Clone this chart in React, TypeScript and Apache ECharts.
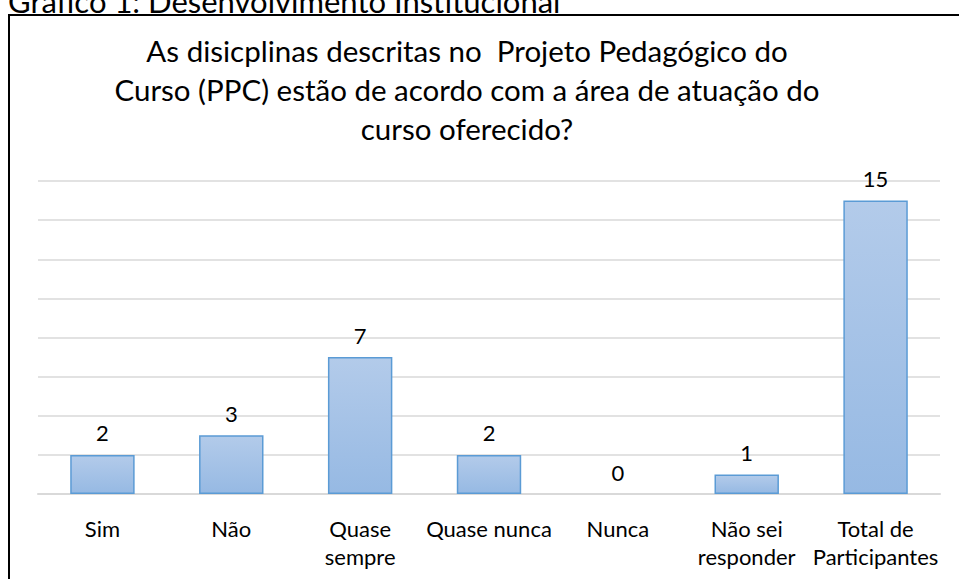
import React, { useEffect, useRef } from "react";
import * as echarts from "echarts";

const heading = "Gráfico 1: Desenvolvimento Institucional";
const titleLines = [
  "As disicplinas descritas no  Projeto Pedagógico do",
  "Curso (PPC) estão de acordo com a área de atuação do",
  "curso oferecido?",
];
const categories = [
  "Sim",
  "Não",
  "Quase\nsempre",
  "Quase nunca",
  "Nunca",
  "Não sei\nresponder",
  "Total de\nParticipantes",
];
const values = [2, 3, 7, 2, 0, 1, 15];

export default function App() {
  const ref = useRef<HTMLDivElement>(null);
  useEffect(() => {
    if (!ref.current) return;
    const chart = echarts.init(ref.current, null, { renderer: "svg" });
    const font = "Lato, 'Open Sans', sans-serif";
    chart.setOption({
      animation: false,
      backgroundColor: "#ffffff",
      textStyle: { fontFamily: font },
      grid: { left: 38, right: 19, top: 181, bottom: 85 },
      xAxis: {
        type: "category",
        data: categories,
        axisLine: { lineStyle: { color: "#d9d9d9", width: 2 } },
        axisTick: { show: false },
        axisLabel: {
          color: "#000",
          fontSize: 22,
          lineHeight: 28,
          margin: 20,
          interval: 0,
          fontFamily: font,
        },
      },
      yAxis: {
        type: "value",
        min: 0,
        max: 16,
        interval: 2,
        axisLabel: { show: false },
        axisLine: { show: false },
        axisTick: { show: false },
        splitLine: { lineStyle: { color: "#d9d9d9", width: 1.5 } },
      },
      series: [
        {
          type: "bar",
          data: values.map((v) =>
            v === 0 ? { value: v, itemStyle: { borderWidth: 0 } } : v
          ),
          barWidth: "50%",
          itemStyle: {
            color: new echarts.graphic.LinearGradient(0, 0, 0, 1, [
              { offset: 0, color: "#b3cbea" },
              { offset: 1, color: "#96b9e3" },
            ]),
            borderColor: "#5b9bd5",
            borderWidth: 1.5,
          },
          label: {
            show: true,
            position: "top",
            distance: 11,
            color: "#000",
            fontSize: 22,
            fontFamily: font,
          },
        },
      ],
      graphic: [
        {
          type: "text",
          x: 8,
          y: 16,
          style: {
            text: heading,
            fontSize: 31,
            fill: "#000",
            fontFamily: font,
            verticalAlign: "bottom",
          },
        },
        {
          type: "rect",
          shape: { x: 9, y: 15, width: 1100, height: 1000 },
          style: { fill: "none", stroke: "#000", lineWidth: 2 },
          silent: true,
        },
        ...titleLines.map((t, i) => ({
          type: "text",
          x: 467,
          y: 50 + i * 39,
          style: {
            text: t,
            fontSize: 29.5,
            fill: "#000",
            fontFamily: font,
            align: "center",
            verticalAlign: "middle",
          },
        })),
      ],
    });
    return () => chart.dispose();
  }, []);
  return (
    <div
      ref={ref}
      style={{ position: "absolute", left: 0, top: 0, width: 959, height: 579 }}
    />
  );
}
